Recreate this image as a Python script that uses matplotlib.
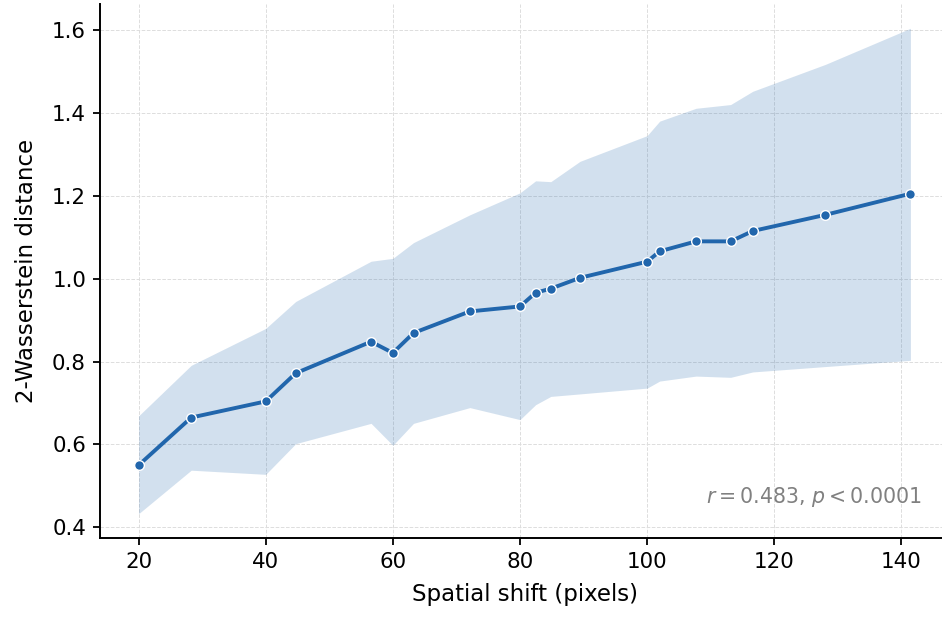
import numpy as np
import matplotlib
matplotlib.use("Agg")
from matplotlib import pyplot as plt

# spatial shifts (pixels) and mean distance with band
shift = [20.0, 28.28, 40.0, 44.72, 56.57, 60.0, 63.25, 72.11, 80.0, 82.46,
         84.85, 89.44, 100.0, 101.98, 107.70, 113.14, 116.62, 128.06, 141.42]
w2_mean = [0.550, 0.665, 0.704, 0.772, 0.848, 0.821, 0.869, 0.921, 0.933, 0.966,
           0.976, 1.002, 1.041, 1.066, 1.090, 1.090, 1.115, 1.154, 1.205]
w2_upper = [0.669, 0.791, 0.880, 0.945, 1.042, 1.049, 1.087, 1.154, 1.207, 1.236,
            1.234, 1.283, 1.345, 1.380, 1.411, 1.420, 1.452, 1.517, 1.604]
w2_lower = [0.433, 0.538, 0.528, 0.602, 0.651, 0.598, 0.651, 0.689, 0.660, 0.696,
            0.716, 0.722, 0.736, 0.753, 0.765, 0.762, 0.775, 0.788, 0.803]
annot = r"$r = 0.483$, $p < 0.0001$"

color = "#2166ac"

fig = plt.figure(figsize=(9.42, 6.17), dpi=100)
# axes run slightly past the right edge of the figure, like the reference crop
ax = fig.add_axes([100/942, 1-538/617, 849/942, 534/617])

ax.fill_between(shift, w2_lower, w2_upper, color=color, alpha=0.2, linewidth=0)
ax.plot(shift, w2_mean, color=color, lw=2.8, marker="o", ms=7,
        markeredgecolor="white", markeredgewidth=1.0)

ax.grid(True, ls="--", lw=0.7, color="#dddddd")
ax.set_axisbelow(True)
ax.spines["top"].set_visible(False)
ax.spines["right"].set_visible(False)
for s in ("left", "bottom"):
    ax.spines[s].set_linewidth(1.4)
ax.tick_params(labelsize=15.4, length=5, width=1.3, pad=5)
ax.set_xlabel("Spatial shift (pixels)", fontsize=16.5, labelpad=8)
ax.set_ylabel("2-Wasserstein distance", fontsize=16.5, labelpad=10)
ax.set_yticks([0.4, 0.6, 0.8, 1.0, 1.2, 1.4, 1.6])
ax.set_xticks([20, 40, 60, 80, 100, 120, 140])

ax.text(0.967, 0.055, annot, transform=ax.transAxes, ha="right", va="bottom",
        fontsize=14.8, color="gray")

fig.savefig("out.png", dpi=100)
